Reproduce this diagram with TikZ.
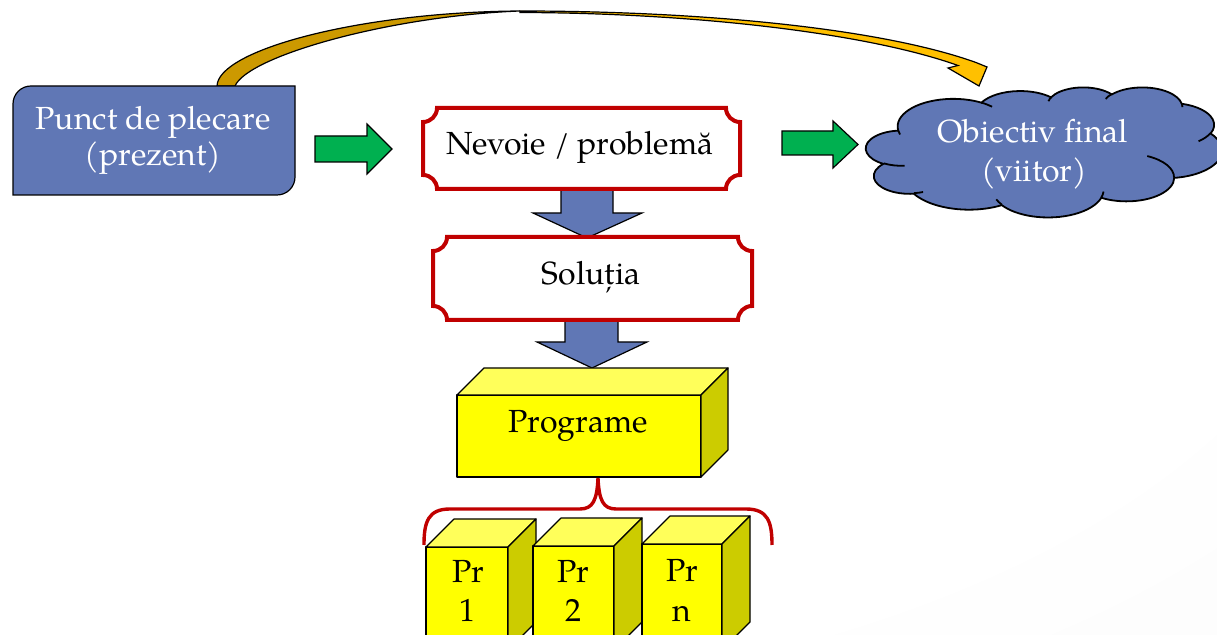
\documentclass[tikz,border=0pt]{standalone}
\usepackage{fontspec}
\setmainfont{TeX Gyre Pagella}

\definecolor{slateblue}{RGB}{96,119,181}
\definecolor{framered}{RGB}{192,0,0}
\definecolor{arrowgreen}{RGB}{0,176,80}
\definecolor{cubefront}{RGB}{255,255,0}
\definecolor{cubetop}{RGB}{255,255,90}
\definecolor{cubeside}{RGB}{204,204,0}
\definecolor{golddark}{RGB}{204,153,0}
\definecolor{goldlight}{RGB}{255,192,0}
\definecolor{bgedge}{RGB}{240,240,240}

\pgfdeclareradialshading{slidebg}{\pgfpoint{-20bp}{20bp}}{%
  color(0bp)=(white); color(40bp)=(white); color(99bp)=(bgedge)}

% one arc of an ellipse; start and sweep are visual angles in degrees
\newcommand\cloudarc[4]{%
  arc[x radius=#1, y radius=#2,
      start angle={atan2(#1*sin(#3),#2*cos(#3))},
      delta angle={mod(atan2(#1*sin(#3+#4),#2*cos(#3+#4))-atan2(#1*sin(#3),#2*cos(#3))+720,360)}]}

% a box in perspective: front face corners, then depth
\newcommand\drawcube[5]{%
  \path[cubeface, fill=cubefront] (#1,#2) rectangle (#3,#4);
  \path[cubeface, fill=cubetop] (#1,#2) -- ({#1+#5},{#2-#5}) -- ({#3+#5},{#2-#5}) -- (#3,#2) -- cycle;
  \path[cubeface, fill=cubeside] (#3,#2) -- ({#3+#5},{#2-#5}) -- ({#3+#5},{#4-#5}) -- (#3,#4) -- cycle;
}

\begin{document}
\begin{tikzpicture}[x=0.5pt, y=-0.5pt,
  every node/.style={inner sep=0pt, font=\fontsize{16}{18}\selectfont},
  outline/.style={draw=black, line width=0.6pt, line join=miter},
  bluebox/.style={outline, fill=slateblue},
  plaque/.style={draw=framered, line width=2pt, fill=white},
  greenarrow/.style={outline, fill=arrowgreen},
  bluearrow/.style={outline, fill=slateblue},
  cubeface/.style={draw=black, line width=0.6pt, line join=round},
  cloudshape/.style={draw=black, line width=0.9pt, fill=slateblue},
  cloudline/.style={draw=black, line width=0.9pt},
  bracket/.style={draw=framered, line width=1.7pt},
  darklabel/.style={text=black, anchor=base},
  lightlabel/.style={text=white, anchor=base},
]
\useasboundingbox (0,0) rectangle (1217,635);
\shade[shading=slidebg] (0,0) rectangle (1217,635);
\clip (0,0) rectangle (1217,635);

% curved arrow from the start box to the goal: underside, then top side with head
\path[outline, fill=golddark] (217,86) .. controls (218,50) and (360,12) .. (520,11)
  .. controls (390,16) and (248,56) .. (235,86) -- cycle;
\path[outline, fill=goldlight] (520,11) .. controls (700,11) and (880,28) .. (976,62.5)
  -- (987,67) -- (979,86) -- (948,68) -- (958,65.5)
  .. controls (870,34) and (700,13) .. (520,12.5) -- cycle;

% start box, rounded on two opposite corners
\path[bluebox] (13,104) arc[start angle=180, end angle=270, radius=18] -- (295,86)
  -- (295,177) arc[start angle=0, end angle=90, radius=18] -- (13,195) -- cycle;
\node[lightlabel] (start1) at (153,129.3) {Punct de plecare};
\node[lightlabel] (start2) at (153,165.7) {(prezent)};

% block arrows along the top row
\path[greenarrow] (315,136) -- (367,136) -- (367,124) -- (392,149) -- (367,174)
  -- (367,162) -- (315,162) -- cycle;
\path[greenarrow] (782,131) -- (833,131) -- (833,121) -- (858,144.5) -- (833,168)
  -- (833,155) -- (782,155) -- cycle;

% downward block arrows
\path[bluearrow] (561,180) -- (613,180) -- (613,213) -- (642,213) -- (587,238)
  -- (533,213) -- (561,213) -- cycle;
\path[bluearrow] (565,312) -- (618,312) -- (618,342) -- (647,342) -- (592,368)
  -- (537,342) -- (565,342) -- cycle;

% framed plaques
\path[plaque] (437,108) -- (726,108) arc[start angle=180, end angle=90, radius=14]
  -- (740,175) arc[start angle=270, end angle=180, radius=14]
  -- (437,189) arc[start angle=0, end angle=-90, radius=14]
  -- (423,122) arc[start angle=90, end angle=0, radius=14] -- cycle;
\node[darklabel] (need) at (580,155) {Nevoie / problemă};

\path[plaque] (447,237) -- (738,237) arc[start angle=180, end angle=90, radius=14]
  -- (752,306) arc[start angle=270, end angle=180, radius=14]
  -- (447,320) arc[start angle=0, end angle=-90, radius=14]
  -- (433,251) arc[start angle=90, end angle=0, radius=14] -- cycle;
\node[darklabel] (solution) at (591,285) {Soluția};

% goal cloud
\begin{scope}[shift={(866,87)}, x=0.41204pt, y=-0.15046pt]
  \path[cloudshape] (39.00,143.70)
    \cloudarc{67.53}{91.90}{-190.4875}{123.7805}
    \cloudarc{53.33}{72.67}{-144.1024}{89.9452}
    \cloudarc{43.65}{59.45}{-145.8079}{99.7230}
    \cloudarc{48.57}{65.95}{-130.9861}{117.2417}
    \cloudarc{53.33}{72.73}{-78.7089}{109.0269}
    \cloudarc{67.75}{92.20}{-46.2673}{130.2690}
    \cloudarc{57.85}{78.67}{0.6250}{114.0333}
    \cloudarc{67.52}{92.15}{22.4516}{115.1726}
    \cloudarc{77.20}{105.43}{66.2426}{75.7110}
    \cloudarc{43.60}{59.18}{-274.9421}{146.7356}
    \cloudarc{43.45}{59.45}{-246.8285}{152.5189}
    -- cycle;
  \path[cloudline]
    (46.93,261.77) \cloudarc{43.45}{59.45}{86.7420}{26.4295}
    (69.28,348.99) \cloudarc{43.60}{59.18}{73.6105}{11.4475}
    (164.78,390.90) \cloudarc{67.52}{92.15}{137.6242}{14.0811}
    (288.27,347.51) \cloudarc{67.52}{92.15}{6.4533}{15.9984}
    (341.29,229.54) \cloudarc{57.85}{78.67}{-70.2924}{70.9174}
    (417.98,153.54) \cloudarc{53.33}{72.73}{30.3180}{27.7515}
    (383.24,54.26) \cloudarc{48.57}{65.95}{-13.7443}{14.8589}
    (290.78,39.52) \cloudarc{48.57}{65.95}{-149.1815}{18.1954}
    (221.41,47.20) \cloudarc{43.65}{59.45}{-163.4943}{17.6864}
    (140.00,51.92) \cloudarc{67.53}{91.90}{-66.7070}{12.3194}
    (41.27,157.89) \cloudarc{67.53}{91.90}{157.6544}{11.8582};
\end{scope}
\node[lightlabel] (goal1) at (1033,142.5) {Obiectiv final};
\node[lightlabel] (goal2) at (1034,182) {(viitor)};

% programs block
\drawcube{457}{395}{701}{477}{27}
\node[darklabel] (programs) at (578,432.5) {Programe};

% brace grouping the individual programs
\path[bracket] (424,545) .. controls (424,522) and (428,509) .. (450,509) -- (580,509)
  .. controls (593,509) and (597,500) .. (598,478)
  .. controls (599,500) and (603,509) .. (616,509) -- (746,509)
  .. controls (768,509) and (772,522) .. (772,545);

% individual programs
\drawcube{426}{547}{508}{650}{28}
\node[darklabel] (pr1a) at (468,583) {Pr};
\node[darklabel] (pr1b) at (467,621.7) {1};
\drawcube{533}{546}{614}{650}{28}
\node[darklabel] (pr2a) at (573,583) {Pr};
\node[darklabel] (pr2b) at (573,621.7) {2};
\drawcube{642}{544}{722}{650}{28}
\node[darklabel] (pr3a) at (682,582) {Pr};
\node[darklabel] (pr3b) at (682,621.7) {n};
\end{tikzpicture}
\end{document}
